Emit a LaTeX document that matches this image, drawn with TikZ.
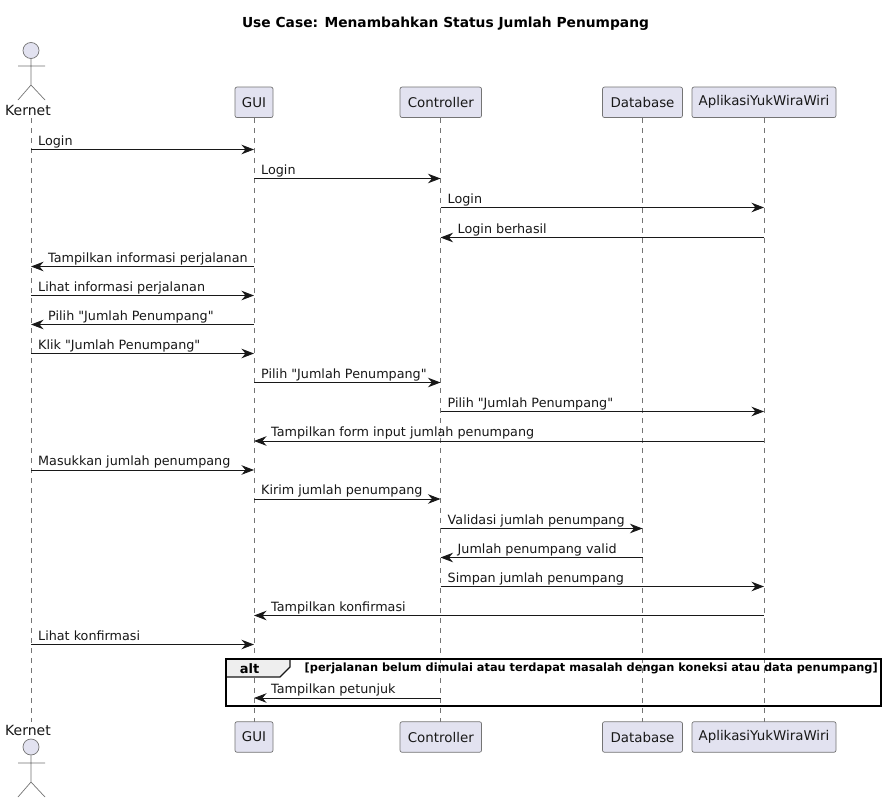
\documentclass[tikz,border=0pt]{standalone}
\usepackage{fontspec}
\setmainfont{DejaVu Sans}[Ligatures=TeXOff]
\usetikzlibrary{arrows.meta,calc}
\definecolor{pbox}{HTML}{E2E2F0}
\definecolor{pline}{HTML}{181818}
\definecolor{ptab}{HTML}{EEEEEE}
\tikzset{
  part/.style={draw=pline!60,line width=.7pt,fill=pbox,rounded corners=2pt,minimum height=30.5pt,inner sep=0pt,font=\fontsize{13.4}{15}\selectfont,text=pline},
  life/.style={draw=pline!60,line width=.6pt,dash pattern=on 5pt off 5pt},
  msgline/.style={draw=pline,line width=.9pt,-{Stealth[length=12.5pt,width=9.5pt,inset=4pt]}},
  msgtext/.style={font=\fontsize{12.75}{15}\selectfont,text=pline,inner sep=0pt,anchor=base west},
  stick/.style={draw=pline!60,line width=.7pt},
  headc/.style={circle,draw=pline!60,line width=.7pt,fill=pbox,minimum size=16pt,inner sep=0pt},
  acttext/.style={font=\fontsize{14}{15}\selectfont,text=pline,inner sep=0pt,anchor=base},
}
% \msgR{from}{to}{y}{name}{text}: left-to-right; \msgL: right-to-left
\newcommand{\msgR}[5]{%
  \coordinate (#4s) at (#1 |- 0,#3);
  \coordinate (#4e) at (#2 |- 0,#3);
  \draw[msgline] (#4s) -- (#4e);
  \node[msgtext] (#4) at ($(#4s)+(7,-4.2)$) {#5};}
\newcommand{\msgL}[5]{%
  \coordinate (#4s) at (#1 |- 0,#3);
  \coordinate (#4e) at (#2 |- 0,#3);
  \draw[msgline] (#4s) -- (#4e);
  \node[msgtext] (#4) at ($(#4e)+(17,-4.2)$) {#5};}
\begin{document}
\begin{tikzpicture}[x=1pt,y=-1pt]
\useasboundingbox (0,0) rectangle (887,803);
\fill[white] (0,0) rectangle (887,803);
\node[font=\bfseries\fontsize{13.8}{15}\selectfont,text=black,inner sep=0pt,anchor=base] (title) at (445.5,27.5) {Use Case: Menambahkan Status Jumlah Penumpang};

% anchors of the lifelines
\coordinate (k) at (31,0);
\coordinate (g) at (254,0);
\coordinate (c) at (440.5,0);
\coordinate (d) at (642.5,0);
\coordinate (a) at (764,0);

% lifelines
\draw[life] (31,118) -- (31,722);
\draw[life] (254,118) -- (254,722);
\draw[life] (440.5,118) -- (440.5,722);
\draw[life] (642.5,118) -- (642.5,722);
\draw[life] (764,118) -- (764,722);

% top participants
\node[part,minimum width=38pt] (gt) at (254,102.3) {GUI};
\node[part,minimum width=81.5pt] (ct) at (440.8,102.3) {Controller};
\node[part,minimum width=80pt] (dt) at (642.5,102.3) {Database};
\node[part,minimum width=144pt] (at) at (764,102.3) {AplikasiYukWiraWiri};
% bottom participants
\node[part,minimum width=38pt] (gb) at (254,737) {GUI};
\node[part,minimum width=81.5pt] (cb) at (440.8,737) {Controller};
\node[part,minimum width=80pt] (db) at (642.5,737) {Database};
\node[part,minimum width=144pt] (ab) at (764,737) {AplikasiYukWiraWiri};

% top actor
\node[headc] (kh) at (31,50.5) {};
\draw[stick] (kh.south) -- (31,85) (18,66) -- (45,66) (18,100) -- (31,85) -- (45,100);
\node[acttext] (kt) at (28,115) {Kernet};
% bottom actor
\node[acttext] (kbt) at (28,735) {Kernet};
\node[headc] (kbh) at (31,747) {};
\draw[stick] (kbh.south) -- (31,782) (18,763) -- (45,763) (18,797) -- (31,782) -- (45,797);

% messages
\msgR{k}{g}{149.5}{m1}{Login}
\msgR{g}{c}{178.5}{m2}{Login}
\msgR{c}{a}{207.5}{m3}{Login}
\msgL{a}{c}{237.5}{m4}{Login berhasil}
\msgL{g}{k}{266.5}{m5}{Tampilkan informasi perjalanan}
\msgR{k}{g}{295.5}{m6}{Lihat informasi perjalanan}
\msgL{g}{k}{324.5}{m7}{Pilih "Jumlah Penumpang"}
\msgR{k}{g}{353.5}{m8}{Klik "Jumlah Penumpang"}
\msgR{g}{c}{382.5}{m9}{Pilih "Jumlah Penumpang"}
\msgR{c}{a}{411.5}{m10}{Pilih "Jumlah Penumpang"}
\msgL{a}{g}{441}{m11}{Tampilkan form input jumlah penumpang}
\msgR{k}{g}{470}{m12}{Masukkan jumlah penumpang}
\msgR{g}{c}{499}{m13}{Kirim jumlah penumpang}
\msgR{c}{d}{528.5}{m14}{Validasi jumlah penumpang}
\msgL{d}{c}{557.5}{m15}{Jumlah penumpang valid}
\msgR{c}{a}{586.5}{m16}{Simpan jumlah penumpang}
\msgL{a}{g}{615.5}{m17}{Tampilkan konfirmasi}
\msgR{k}{g}{644.5}{m18}{Lihat konfirmasi}
\msgL{c}{g}{698}{m19}{Tampilkan petunjuk}

% alt frame
\draw[pline,line width=1.3pt,fill=ptab] (226,659) -- (290,659) -- (290,667) -- (280,677) -- (226,677) -- cycle;
\draw[black,line width=1.6pt] (226,659) rectangle (881,706);
\node[font=\bfseries\fontsize{13}{15}\selectfont,text=black,inner sep=0pt,anchor=base] (altl) at (249.5,673) {alt};
\node[font=\bfseries\fontsize{11.34}{13}\selectfont,text=black,inner sep=0pt,anchor=base west] (altc) at (304.5,671) {[perjalanan belum dimulai atau terdapat masalah dengan koneksi atau data penumpang]};
\end{tikzpicture}
\end{document}
